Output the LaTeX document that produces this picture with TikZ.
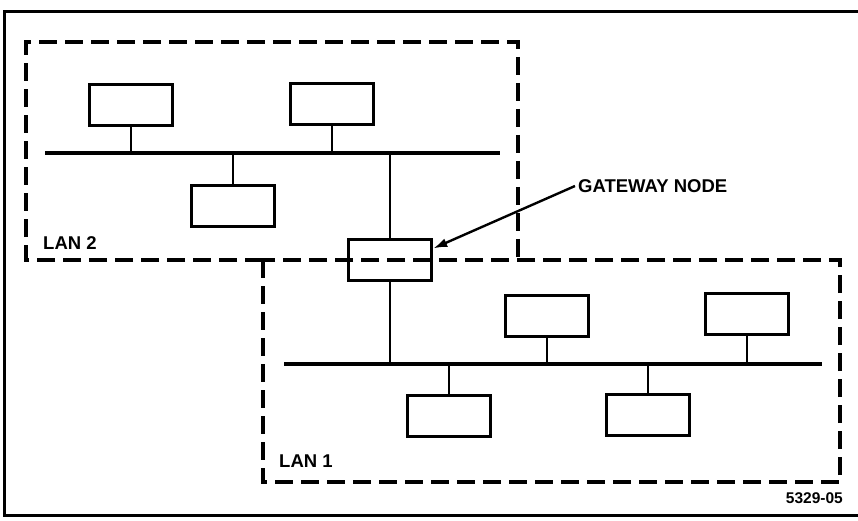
\documentclass[tikz,border=0pt]{standalone}
\usepackage{fontspec}
\setsansfont{Liberation Sans}
\usetikzlibrary{arrows.meta,positioning,calc}
\tikzset{
  station/.style = {rectangle, draw, line width=3.4pt, inner sep=0pt,
                    minimum width=83pt, minimum height=41pt},
  lan/.style     = {line width=3.6pt, dash pattern=on 18pt off 8pt},
  bus/.style     = {line width=3.4pt},
  tap/.style     = {line width=2.4pt},
  lanlab/.style  = {font=\sffamily\bfseries\fontsize{18.5}{20}\selectfont,
                    inner sep=0pt},
  pointer/.style = {-{Latex[length=14pt,width=9pt]}, line width=2.4pt},
}

\begin{document}
\begin{tikzpicture}[x=1pt, y=-1pt]
  \useasboundingbox (0,0) rectangle (858,521);

  % outer frame
  \draw[line width=3pt] (862,12) -- (4,12) -- (4,515) -- (862,515);

  % LAN 2
  \draw[lan] (263,260) -- (26,260) -- (26,42) -- (518,42) -- (518,260);
  \coordinate (bus2w) at (45,153);
  \coordinate (bus2e) at (500,153);
  \draw[bus] (bus2w) -- (bus2e);

  \node[station] (a1) at (131,105) {};
  \node[station] (a2) at (332,104) {};
  \node[station] (a3) at (233,206) {};
  \foreach \n in {a1,a2} \draw[tap] (\n.south) -- (\n.south |- bus2w);
  \draw[tap] (a3.north) -- (a3.north |- bus2w);
  \node[lanlab, anchor=west] (lan2) at (43,243) {LAN 2};

  % LAN 1
  \draw[lan] (263,260) rectangle (840,482);
  \coordinate (bus1w) at (284,364);
  \coordinate (bus1e) at (822,364);
  \draw[bus] (bus1w) -- (bus1e);

  \node[station] (b1) at (547,316) {};
  \node[station] (b2) at (747,314) {};
  \node[station] (b3) at (449,416) {};
  \node[station] (b4) at (648,415) {};
  \foreach \n in {b1,b2} \draw[tap] (\n.south) -- (\n.south |- bus1w);
  \foreach \n in {b3,b4} \draw[tap] (\n.north) -- (\n.north |- bus1w);
  \node[lanlab, anchor=west] (lan1) at (279,461) {LAN 1};

  % gateway
  \node[station] (gw) at (390,260) {};
  \draw[tap] (gw.north) -- (gw.north |- bus2w);
  \draw[tap] (gw.south) -- (gw.south |- bus1w);
  \node[lanlab, anchor=west, inner sep=3pt] (gwlab) at (575,186) {GATEWAY NODE};
  \draw[pointer] (gwlab.west) -- (gw.15);

  \node[font=\sffamily\bfseries\fontsize{15.5}{17}\selectfont, anchor=east,
        inner sep=0pt] (fignum) at (843,498) {5329-05};
\end{tikzpicture}
\end{document}
